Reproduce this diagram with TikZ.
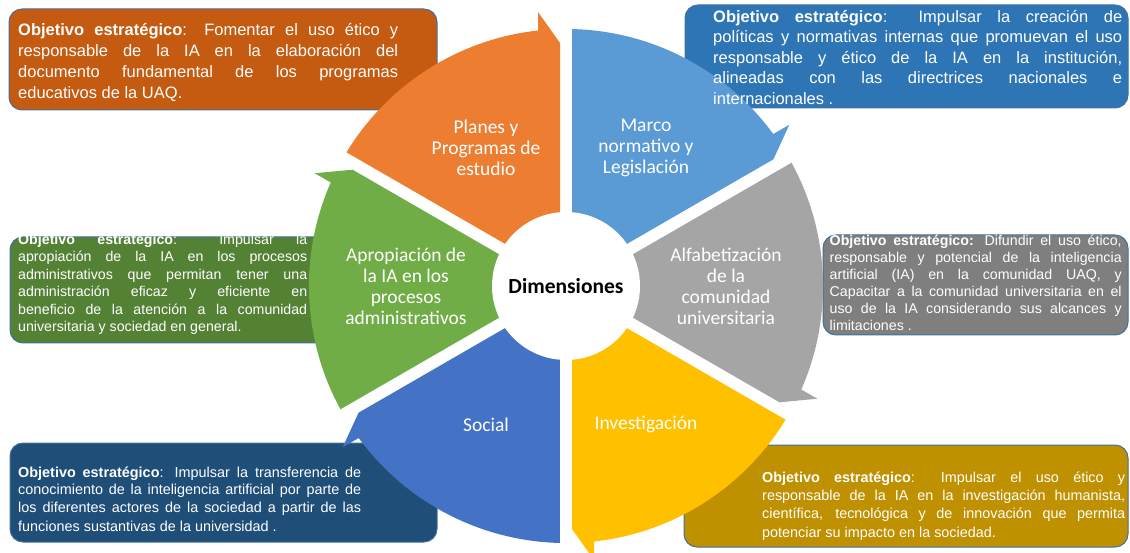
\documentclass[tikz,border=0pt]{standalone}
\usepackage{fontspec}
\setmainfont{Liberation Sans}
\newfontfamily\calibri{Carlito}
\definecolor{segorange}{HTML}{ED7D31}
\definecolor{segsky}{HTML}{5B9BD5}
\definecolor{seggray}{HTML}{A5A5A5}
\definecolor{segyellow}{HTML}{FFC000}
\definecolor{segblue}{HTML}{4472C4}
\definecolor{seggreen}{HTML}{70AD47}
\definecolor{boxrust}{HTML}{C55A11}
\definecolor{boxblue}{HTML}{2E75B6}
\definecolor{boxgreen}{HTML}{548235}
\definecolor{boxgray}{HTML}{7F7F7F}
\definecolor{boxnavy}{HTML}{1F4E79}
\definecolor{boxgold}{HTML}{BF9000}
\definecolor{boxline}{HTML}{41719C}
\begin{document}
\begin{tikzpicture}[x=1pt,y=1pt,
    objbox/.style={draw=boxline, line width=1pt, rounded corners=13pt},
    objtext/.style={anchor=base west, inner sep=0pt, text=white, align=justify, text width=#1},
    seglabel/.style={text=white, align=center, font=\calibri\fontsize{19.5}{21}\selectfont}]
  \useasboundingbox (0,0) rectangle (1130,552);

  \draw[objbox, fill=boxrust] (9,442) rectangle (437,543);
  \draw[objbox, fill=boxblue] (685,444) rectangle (1128,547);
  \draw[objbox, fill=boxgreen] (10,209) rectangle (330,315);
  \draw[objbox, fill=boxgray] (823,217) rectangle (1128,317);
  \draw[objbox, fill=boxnavy] (10,10) rectangle (437,109);
  \draw[objbox, fill=boxgold] (684,5) rectangle (1128,107);

  \begin{scope}[shift={(566,266)}]
    \foreach \col/\lbl [count=\k from 0] in {segorange/{Planes y\\Programas de\\estudio}, segsky/{Marco\\normativo y\\Legislación}, seggray/{Alfabetización\\de la\\comunidad\\universitaria}, segyellow/Investigación, segblue/Social, seggreen/{Apropiación de\\la IA en los\\procesos\\administrativos}} {
      \fill[\col, rotate=-60*\k] (-6,10.4) -- (-6,243) -- (-28,274) -- (-28,255.5)
        arc[start angle=96.25, end angle=148.66, radius=257] -- cycle;
      \node[seglabel] (dim-\k) at (120-60*\k:160) {\lbl};
    }
    \fill[white] (0,0) circle (74);
    \node[font=\calibri\bfseries\fontsize{21.5}{26}\selectfont] (dimensiones) at (0,0) {Dimensiones};
  \end{scope}

  \node[objtext=380pt, font=\fontsize{16.5}{20.8}\selectfont] (obj-planes) at (18,516)
    {\textbf{Objetivo estratégico}: Fomentar el uso ético y\linebreak responsable de la IA en la elaboración del\linebreak documento fundamental de los programas\linebreak educativos de la UAQ.};
  \node[objtext=409pt, font=\fontsize{16.5}{20.4}\selectfont] (obj-marco) at (713,529.5)
    {\textbf{Objetivo estratégico}:\ \ Impulsar la creación de\linebreak políticas y normativas internas que promuevan el uso\linebreak responsable y ético de la IA en la institución,\linebreak alineadas con las directrices nacionales e\linebreak internacionales .};
  \node[objtext=289pt, font=\fontsize{14.2}{17.4}\selectfont] (obj-apropiacion) at (18,307.4)
    {\textbf{Objetivo estratégico}: Impulsar la\linebreak apropiación de la IA en los procesos\linebreak administrativos que permitan tener una\linebreak administración eficaz y eficiente en\linebreak beneficio de la atención a la comunidad\linebreak universitaria y sociedad en general.};
  \node[objtext=292pt, font=\fontsize{14.2}{16.9}\selectfont] (obj-alfabetizacion) at (829.5,306)
    {\textbf{Objetivo estratégico:} Difundir el uso ético,\linebreak responsable y potencial de la inteligencia\linebreak artificial (IA) en la comunidad UAQ, y\linebreak Capacitar a la comunidad universitaria en el\linebreak uso de la IA considerando sus alcances y\linebreak limitaciones .};
  \node[objtext=343pt, font=\fontsize{14.4}{18}\selectfont] (obj-social) at (18,75)
    {\textbf{Objetivo estratégico}: Impulsar la transferencia de\linebreak conocimiento de la inteligencia artificial por parte de\linebreak los diferentes actores de la sociedad a partir de las\linebreak funciones sustantivas de la universidad .};
  \node[objtext=363pt, font=\fontsize{14.4}{18.4}\selectfont] (obj-investigacion) at (762,70)
    {\textbf{Objetivo estratégico}: Impulsar el uso ético y\linebreak responsable de la IA en la investigación humanista,\linebreak científica, tecnológica y de innovación que permita\linebreak potenciar su impacto en la sociedad.};
\end{tikzpicture}
\end{document}
